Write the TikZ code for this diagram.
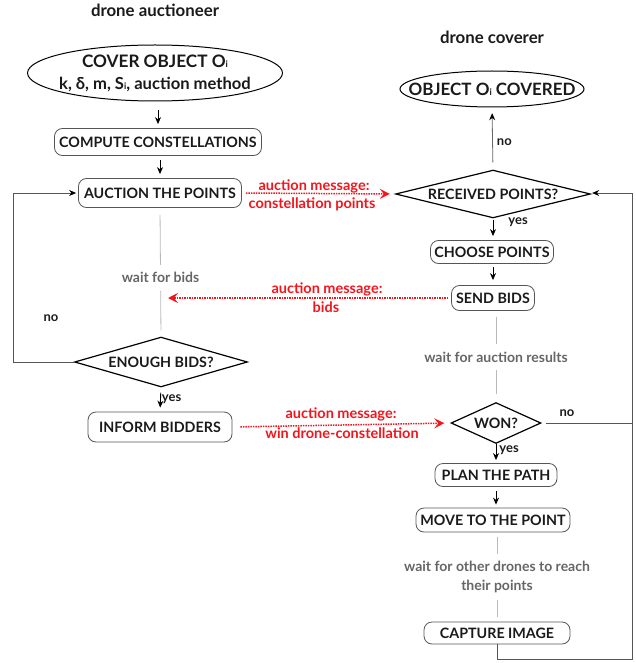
\documentclass[tikz,border=0pt]{standalone}
\usepackage{fontspec}
\setmainfont{Lato}
\usetikzlibrary{arrows.meta,calc}
\definecolor{txt}{HTML}{1A1A1A}
\definecolor{lbl}{HTML}{666666}
\definecolor{msg}{HTML}{F5141C}
\definecolor{edge}{HTML}{555555}
\newcommand{\subi}{{\fontsize{9}{9}\selectfont i}}
\tikzset{
  x=1pt, y=-1pt,
  every node/.style={font=\bfseries, text=txt},
  stepbox/.style={draw=edge, line width=0.8pt, rounded corners=8pt, inner xsep=3pt, minimum height=25pt, font=\fontsize{14.3}{16}\selectfont\bfseries},
  title/.style={font=\fontsize{16.8}{19}\selectfont\bfseries},
  graylbl/.style={text=lbl, font=\fontsize{14}{19}\selectfont\bfseries, align=center},
  gaplbl/.style={graylbl, fill=white, inner ysep=8pt},
  msglbl/.style={text=msg, font=\fontsize{14.5}{16}\selectfont\bfseries, inner sep=1pt},
  small/.style={font=\fontsize{13}{14}\selectfont\bfseries, inner sep=1pt},
  diatext/.style={inner sep=0pt, font=\fontsize{14.3}{16}\selectfont\bfseries},
  tip/.style={-{Stealth[length=7pt,width=6pt,color=black]}},
  arr/.style={tip, line width=0.9pt, black},
  grayline/.style={draw=lbl!45, line width=0.8pt},
  msgarr/.style={-{Stealth[length=10pt,width=10pt,inset=4pt]}, msg, line width=1.5pt, densely dotted},
  loop/.style={draw=edge, line width=0.8pt},
}
\begin{document}
\begin{tikzpicture}
\useasboundingbox (0,0) rectangle (635,663);

% titles
\node[title] (t1) at (155,10) {drone auctioneer};
\node[title] (t2) at (492,37) {drone coverer};

% left column
\node[minimum width=255pt, minimum height=56pt, inner sep=0pt, align=center, font=\fontsize{17.2}{22}\selectfont\bfseries] (cover) at (155,73)
  {COVER OBJECT O\subi\\\fontsize{16.6}{22}\selectfont k, δ, m, S\subi, auction method};
\draw[line width=1pt] (cover.center) ellipse [x radius=127.5, y radius=28];

\node[stepbox, minimum width=207pt, minimum height=27pt] (compute) at (158,142) {COMPUTE CONSTELLATIONS};
\node[stepbox, minimum width=163pt, minimum height=29pt] (auction) at (160,193) {AUCTION THE POINTS};
\node[diatext, minimum width=172pt, minimum height=49pt] (enough) at (161,362) {ENOUGH BIDS?};
\draw[line width=1.2pt, line join=miter] (enough.west) -- (enough.north) -- (enough.east) -- (enough.south) -- cycle;
\node[stepbox, minimum width=144pt, minimum height=30pt] (inform) at (160,427) {INFORM BIDDERS};

% right column
\node[minimum width=184pt, minimum height=36pt, inner sep=0pt, font=\fontsize{17}{19}\selectfont\bfseries] (covered) at (492,89)
  {OBJECT O\subi\ COVERED};
\draw[line width=1pt] (covered.center) ellipse [x radius=92, y radius=18];

\node[diatext, minimum width=194pt, minimum height=47pt] (rec) at (493,194) {RECEIVED POINTS?};
\draw[line width=1.2pt, line join=miter] (rec.west) -- (rec.north) -- (rec.east) -- (rec.south) -- cycle;

\node[stepbox, minimum width=123pt, minimum height=23pt] (choose) at (492,252) {CHOOSE POINTS};
\node[stepbox, minimum width=83pt, minimum height=25pt] (send) at (493,298) {SEND BIDS};
\node[diatext, minimum width=89pt, minimum height=40pt] (won) at (496,423) {WON?};
\draw[line width=1.2pt, line join=miter] (won.west) -- (won.north) -- (won.east) -- (won.south) -- cycle;
\node[stepbox, minimum width=122pt, minimum height=23pt] (plan) at (496,475) {PLAN THE PATH};
\node[stepbox, minimum width=154pt, minimum height=24pt] (move) at (493,520) {MOVE TO THE POINT};
\node[stepbox, minimum width=146pt, minimum height=22pt] (capture) at (497,633) {CAPTURE IMAGE};

% left connectors
\draw[arr, shorten <=9pt, shorten >=4pt] (compute.north |- cover.south) -- (compute.north);
\draw[arr, shorten <=4pt, shorten >=4pt] (compute.south -| auction.north) -- (auction.north);
\draw[grayline, shorten <=7pt, shorten >=7pt] (auction.south) -- (enough.north)
  node[gaplbl, pos=0.54] (wbids) {wait for bids};
\draw[arr, shorten <=6pt, shorten >=4pt] (enough.south) -- (inform.north)
  node[small, right, pos=0.5] (yes1) {yes};
\coordinate (lcorner) at (13,362);
\draw[loop, tip, shorten >=2pt] (enough.west) -- (lcorner) |- (auction.west);
\node[small] (no1) at (51,318) {no};

% right connectors
\draw[loop, tip, draw=lbl, shorten <=8pt, shorten >=6pt] (rec.north) -- (covered.south)
  node[small, right, pos=0.45, xshift=3pt] (no2) {no};
\draw[arr, shorten <=2pt, shorten >=4pt] (rec.south) -- (choose.north -| rec.south)
  node[small, right, pos=0.2, xshift=14pt] (yes2) {yes};
\draw[arr, shorten <=3pt, shorten >=5pt] (choose.south -| send.north) -- (send.north);
\draw[grayline, shorten <=6pt, shorten >=9pt] (send.south -| won.north) -- (won.north)
  node[gaplbl, pos=0.5] (wres) {wait for auction results};
\draw[arr, shorten <=1pt, shorten >=3pt] (won.south) -- (plan.north)
  node[small, right, pos=0.35, xshift=2pt] (yes3) {yes};
\draw[arr, shorten <=4pt, shorten >=3pt] (plan.south) -- (plan.south |- move.north);
\draw[grayline, shorten <=5pt, shorten >=5pt] (move.south -| capture.north) -- (capture.north)
  node[gaplbl, pos=0.5, inner ysep=7pt] (wother) {wait for other drones to reach\\their points};
\coordinate (rb) at (632,659);
\coordinate (rt) at (632,193);
\draw[loop, tip, shorten >=2pt] (capture.south) -- (capture.south |- rb) -- (rb) -- (rt) -- (rec.east |- rt);
\draw[loop, shorten <=5pt] (won.east) -- (won.east -| rt);
\node[small] (no3) at (567,413) {no};

% messages
\draw[msgarr, shorten <=4pt, shorten >=6pt] (auction.east) -- (rec.west);
\node[msglbl] (m1a) at (314,186) {auction message:};
\node[msglbl] (m1b) at (312,204) {constellation points};

\coordinate (bidtip) at (168,298);
\draw[msgarr, shorten <=3pt] (send.west) -- (bidtip);
\node[msglbl] (m2a) at (327,289) {auction message:};
\node[msglbl] (m2b) at (326,307) {bids};

\draw[msgarr, shorten <=8pt, shorten >=7pt] (inform.east) -- (won.west);
\node[msglbl] (m3a) at (341,414) {auction message:};
\node[msglbl] (m3b) at (342,433) {win drone-constellation};
\end{tikzpicture}
\end{document}
